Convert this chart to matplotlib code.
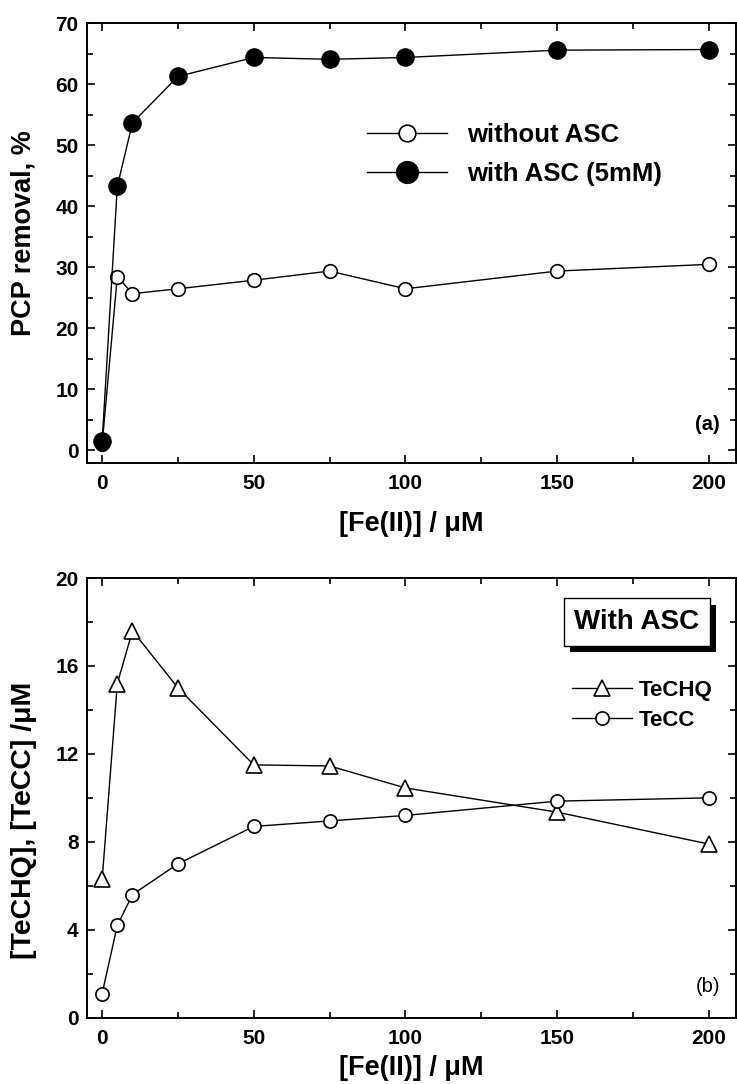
import matplotlib
matplotlib.use("Agg")
import matplotlib.pyplot as plt
from matplotlib.lines import Line2D
from matplotlib.ticker import MultipleLocator
import matplotlib.patheffects as pe

plt.rcParams['font.family'] = ['Liberation Sans', 'DejaVu Sans']

# ---------------- data ----------------
fe_conc = [0, 5, 10, 25, 50, 75, 100, 150, 200]
pcp_without_asc = [1.1, 28.5, 25.7, 26.5, 27.9, 29.4, 26.5, 29.4, 30.5]
pcp_with_asc = [1.5, 43.3, 53.7, 61.3, 64.4, 64.1, 64.4, 65.6, 65.7]
techq = [6.3, 15.2, 17.6, 15.0, 11.5, 11.45, 10.45, 9.35, 7.9]
tecc = [1.1, 4.2, 5.6, 7.0, 8.7, 8.95, 9.2, 9.85, 10.0]

W, H = 737, 1084
fig = plt.figure(figsize=(W / 100, H / 100), dpi=100)

def px_axes(left, top, right, bottom):
    return fig.add_axes([left / W, 1 - bottom / H, (right - left) / W, (bottom - top) / H])

ax1 = px_axes(87, 23.3, 736, 462.7)
ax2 = px_axes(87, 578, 736, 1017.7)

def style(ax):
    for s in ax.spines.values():
        s.set_linewidth(1.4)
    ax.tick_params(which='both', direction='in', top=True, right=True, width=1.2)
    ax.tick_params(which='major', length=6)
    ax.tick_params(which='minor', length=4)
    ax.tick_params(axis='x', which='major', pad=8, labelsize=15)
    ax.tick_params(axis='y', which='major', pad=6, labelsize=15)
    for lab in ax.get_xticklabels() + ax.get_yticklabels():
        lab.set_fontweight('bold')
    ax.set_xlim(-5, 209)
    ax.xaxis.set_major_locator(MultipleLocator(50))
    ax.xaxis.set_minor_locator(MultipleLocator(25))

lw = 1.0
mew = 1.2

# ---------------- panel (a) ----------------
ax1.plot(fe_conc, pcp_without_asc, '-o', color='black', lw=lw, mfc='white', mec='black',
         ms=9.8, mew=mew, zorder=3)
ax1.plot(fe_conc, pcp_with_asc, '-o', color='black', lw=lw, mfc='black', mec='black',
         ms=12.2, mew=mew, zorder=4)
ax1.set_ylim(-2, 70)
ax1.yaxis.set_major_locator(MultipleLocator(10))
ax1.yaxis.set_minor_locator(MultipleLocator(5))
style(ax1)
ax1.set_xlabel('[Fe(II)] / μM', fontsize=19.5, fontweight='bold', labelpad=13)
ax1.set_ylabel('PCP removal, %', fontsize=19.5, fontweight='bold')
ax1.yaxis.set_label_coords((37 - 87) / 649, 1 - (233 - 23.3) / 439.4)
ax1.text(0.975, 0.087, '(a)', transform=ax1.transAxes, ha='right', va='center',
         fontsize=14.5, fontweight='bold')

h1 = [Line2D([], [], color='black', lw=lw, marker='o', mfc='white', mec='black', ms=12, mew=mew),
      Line2D([], [], color='black', lw=lw, marker='o', mfc='black', mec='black', ms=15.5, mew=mew)]
leg1 = ax1.legend(h1, ['without ASC', 'with ASC (5mM)'], loc='upper left',
                  bbox_to_anchor=(367 / W, 1 - 123 / H), bbox_transform=fig.transFigure,
                  frameon=False, borderpad=0, borderaxespad=0, handlelength=3.1,
                  handletextpad=0.8, labelspacing=0.58,
                  prop={'size': 18.5, 'weight': 'bold'})

# ---------------- panel (b) ----------------
ax2.plot(fe_conc, techq, '-^', color='black', lw=lw, mfc='white', mec='black',
         ms=11, mew=mew, zorder=3)
ax2.plot(fe_conc, tecc, '-o', color='black', lw=lw, mfc='white', mec='black',
         ms=9.5, mew=mew, zorder=3)
ax2.set_ylim(0, 20)
ax2.yaxis.set_major_locator(MultipleLocator(4))
ax2.yaxis.set_minor_locator(MultipleLocator(2))
style(ax2)
ax2.set_xlabel('[Fe(II)] / μM', fontsize=19.5, fontweight='bold', labelpad=5)
ax2.set_ylabel('[TeCHQ], [TeCC] /μM', fontsize=20.5, fontweight='bold')
ax2.yaxis.set_label_coords((37 - 87) / 649, 1 - (820 - 578) / 439.7)
ax2.text(0.975, 0.07, '(b)', transform=ax2.transAxes, ha='right', va='center',
         fontsize=14.5)

h2 = [Line2D([], [], color='black', lw=lw, marker='^', mfc='white', mec='black', ms=11, mew=mew),
      Line2D([], [], color='black', lw=lw, marker='o', mfc='white', mec='black', ms=9.5, mew=mew)]
leg2 = ax2.legend(h2, ['TeCHQ', 'TeCC'], loc='upper left',
                  bbox_to_anchor=(572 / W, 1 - 680 / H), bbox_transform=fig.transFigure,
                  frameon=False, borderpad=0, borderaxespad=0, handlelength=2.7,
                  handletextpad=0.3, labelspacing=0.4,
                  prop={'size': 16, 'weight': 'bold'})

t = fig.text(637 / W, 1 - 622 / H, 'With ASC', ha='center', va='center',
             fontsize=20, fontweight='bold',
             bbox=dict(boxstyle='square,pad=0.38', fc='white', ec='black', lw=1.0))
t.get_bbox_patch().set_path_effects([
    pe.SimplePatchShadow(offset=(4.5, -4.5), shadow_rgbFace='black', alpha=1.0),
    pe.Normal()])

fig.savefig('out.png', dpi=100)
